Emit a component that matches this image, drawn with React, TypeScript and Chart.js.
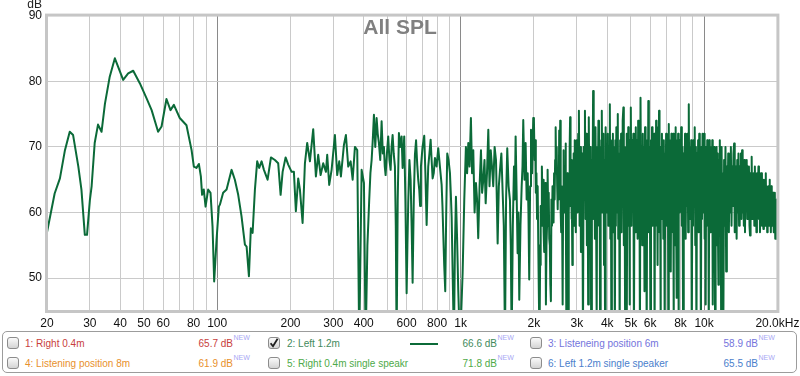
import React, { useEffect, useRef } from 'react';
import { Chart, registerables } from 'chart.js';

Chart.register(...registerables);

type Pt = [number, number];

// ---- Trace "2: Left 1.2m" : [frequency Hz, SPL dB] ----
const bassBand: Pt[] = [
  [20, 57.0], [21.5, 62.9], [22.6, 65.2], [23.7, 69.5], [24.8, 72.3], [25.6, 71.8], [26.9, 67.0],
  [27.7, 63.5], [28.6, 56.6], [29.2, 56.6], [30.0, 61.9], [30.5, 64.0], [31.4, 70.6], [32.4, 73.4],
  [33.5, 72.3], [34.6, 76.6], [36.2, 80.7], [38.0, 83.5], [39.2, 82.2], [41.1, 80.2], [43.1, 81.2],
  [45.2, 81.6], [48.1, 79.7], [51.3, 77.4], [53.8, 75.6], [57.2, 72.3], [59.1, 73.1], [61.9, 77.3],
  [64.3, 75.6], [66.4, 76.4], [70.2, 74.4], [74.8, 73.3], [78.5, 69.5], [80.2, 67.0], [82.2, 66.8],
  [84.1, 67.4], [85.7, 65.5], [86.7, 62.7], [88.1, 63.5], [89.6, 60.9], [91.8, 63.5], [93.9, 63.0],
  [95.7, 57.9], [97.2, 49.5], [99.4, 55.8],
];

const lowMidBand: Pt[] = [
  [101.6, 60.9], [102.6, 61.2], [105.8, 63.0], [109.3, 63.5], [114.6, 66.5], [118.2, 65.0], [122.0, 62.7],
  [125.9, 59.4], [130.0, 55.1], [132.1, 54.8], [135.0, 50.3], [137.5, 57.6], [139.8, 56.9], [142.9, 63.5],
  [146.0, 67.8], [148.8, 66.8], [152.2, 67.8], [155.6, 66.5], [161.1, 65.0], [166.3, 68.4], [172.6, 68.0],
  [178.1, 67.5], [182.2, 62.7], [185.7, 66.2], [191.0, 68.4], [195.8, 67.3], [202.2, 66.2], [206.6, 66.2],
  [210.5, 60.2], [215.2, 65.2], [218.7, 63.5], [224.3, 58.4], [229.3, 67.5], [234.3, 70.6], [240.4, 67.8],
  [248.0, 72.7], [254.4, 65.5], [260.0, 68.8], [266.0, 65.7], [272.6, 67.5], [279.7, 66.2], [283.1, 68.8],
  [288.5, 64.2], [295.1, 66.5], [304.5, 71.8], [311.2, 65.7], [317.2, 67.8], [322.3, 65.5], [331.6, 70.3],
  [337.9, 71.8], [345.4, 67.0], [353.3, 67.8], [360.1, 65.0], [368.0, 70.0], [376.1, 69.5], [383.2, 40],
  [392.0, 66.5], [400.7, 64.5],
];

const midBand: Pt[] = [
  [407.2, 40], [414, 55], [421.2, 61.9], [426, 66], [430.9, 68.0], [435.5, 71], [440.4, 74.9], [446, 70],
  [451.7, 74.4], [456.5, 72], [461.6, 70.6], [467.5, 68], [473.6, 73.9], [479, 69], [484.0, 70.0], [488, 67],
  [491.8, 65.7], [498, 69], [504.1, 71.6], [510, 68], [515.6, 66.5], [520.5, 70], [525.5, 71.8], [531, 69],
  [537.1, 67.0], [541.5, 58], [545.8, 40], [551.5, 62], [557.8, 72.1], [565, 70], [572.2, 71.6], [577.7, 66.8],
  [582, 69], [586.5, 71.6], [593, 62], [600.0, 47.7], [604.5, 55], [609.1, 61.4], [616, 68], [623.1, 65.0],
  [629, 58], [635.0, 49.3], [642, 62], [649.0, 68.8], [656, 71], [663.3, 67.3], [669.5, 65], [676.0, 63.5],
  [681.5, 61], [686.9, 67.0], [697.5, 70], [708.7, 71.7], [716.5, 66], [725.0, 58.1], [730.5, 63], [736.0, 67.0],
  [744.5, 69], [752.9, 71.1], [760, 68], [767.3, 65.2], [775.5, 66], [784.2, 68.3], [796.5, 67], [809.1, 69.8],
  [822, 67], [835.5, 64.2], [842, 61], [848.3, 56.9], [856, 52], [864.5, 48.0], [872.5, 60], [881.0, 69.0],
  [892, 68], [903.8, 66.0], [911, 63], [918.4, 59.4], [928, 50], [938.6, 40], [947.5, 55], [956.5, 62.4],
  [967, 56], [977.6, 48.2], [985.5, 44], [993.4, 40], [1006, 45], [1019, 50.8], [1035, 62], [1051, 70.0],
  [1063, 66], [1075, 70.6], [1088, 67], [1102, 74.4], [1114, 66], [1127, 69.5], [1141, 60], [1156, 64.5],
  [1168, 62], [1181, 56.1], [1196, 64], [1212, 69.5], [1225, 63], [1239, 65.0], [1253, 68], [1267, 61.4],
  [1283, 66], [1299, 72.6], [1314, 64], [1329, 69.5], [1345, 67], [1361, 64.0], [1379, 70], [1397, 68.0],
  [1408, 62], [1419, 55.3], [1435, 64], [1451, 66.5], [1470, 69], [1488, 63.0], [1504, 58], [1521, 40],
  [1537, 62], [1554, 69.8], [1574, 64], [1594, 61.9], [1607, 55], [1620, 40], [1638, 58], [1656, 67.0],
  [1669, 62], [1682, 71.6], [1698, 63], [1714, 53.8], [1727, 60], [1741, 46.7], [1761, 58], [1781, 64.0],
  [1795, 67], [1808, 74.1], [1829, 65], [1849, 70.6], [1867, 62], [1885, 66.0], [1899, 60], [1913, 49.8],
  [1929, 64], [1945, 72.6], [1966, 66], [1987, 74.4],
];

const band2kStartHz = 2000;
const band2kStepHz = 12;
const band2kLevels = [
  74, 68, 71, 63, 66, 59, 64, 55, 47, 40,
  52, 61, 58, 67, 62, 65, 57, 54, 63, 64.5,
  46, 55, 58, 66.5, 60, 63, 56, 55, 49, 46.5,
  62, 58, 64, 60, 58.5, 66, 62, 68, 73, 66,
  70, 64, 60.5, 66, 62, 72.5, 65, 74, 60, 57,
  64, 58, 46, 62, 69.5, 60, 62, 67, 70.5, 63,
  40, 58, 66, 54, 40, 60, 63, 70, 74.5, 61,
  68, 59, 66, 52, 67, 60, 69, 58, 71, 62,
  66, 57, 70, 63,
];

const band3kStartHz = 3000;
const band3kStepHz = 20;
const band3kLevels = [
  71, 60, 72, 75.5, 58, 70, 54, 68, 69, 40,
  70, 62, 75.5, 59, 72, 55, 71, 46, 74.5, 61,
  70, 58, 40, 68, 62, 78.5, 59, 72, 56, 73,
  60, 44, 70, 62, 74, 58, 71, 40, 66, 70,
  75.5, 60, 69, 72, 52, 68, 40, 73, 60, 70,
  64, 72, 58, 70, 61, 76.5, 56, 71, 40, 69,
  60, 72, 57, 70, 62, 40, 71, 58, 73, 60,
  70, 75, 56, 69, 62, 40, 71, 60, 72, 57,
  69, 62, 74, 76, 55, 70, 60, 40, 68, 61,
  72, 40, 70, 58, 73, 62, 69, 46, 71, 60,
];

const band5kStartHz = 5000;
const band5kStepHz = 30;
const band5kLevels = [
  76, 58, 71, 62, 72, 40, 69, 57, 73, 61,
  71, 56, 74, 60, 70, 40, 77.5, 62, 69, 55,
  72, 60, 70, 48, 73, 61, 68, 40, 71, 59,
  77, 57, 70, 62, 40, 71, 60, 73, 58, 69,
  61, 72, 40, 70, 58, 74, 61, 69, 52, 73,
  60, 75.5, 57, 70, 40, 68, 61, 72, 59, 70,
  56, 71, 62, 40, 69, 60, 72, 58, 70, 61,
  68, 40, 73.5, 59, 71, 62, 69, 51, 72, 60,
  70, 57, 72, 40, 69, 61, 71, 55, 73, 60,
  69, 47, 71, 58, 72, 40, 68, 60, 71, 62,
];

const band8kStartHz = 8000;
const band8kStepHz = 50;
const band8kLevels = [
  64, 73, 58, 70, 40, 69, 60, 72, 56, 70,
  61, 72, 57, 76.5, 59, 70, 62, 71, 40, 68,
  58, 71, 62, 73, 55, 70, 40, 69, 60, 71,
  57, 72, 61, 69, 40, 70, 59, 72, 60, 68,
  72, 56, 70, 46, 69, 61, 71, 58, 70, 40,
  71, 60, 68, 57, 70, 61, 71, 46, 69, 59,
  70, 58, 40, 68, 60, 70, 55, 69, 61, 49,
  68, 59, 71, 60, 69, 40, 70, 58, 66, 40,
];

const band12kStartHz = 12000;
const band12kStepHz = 80;
const band12kLevels = [
  44, 68, 58, 70, 51, 67, 60, 69, 57, 68,
  60, 70, 58, 67, 61, 69, 70.5, 57, 67, 62,
  56, 68, 60, 69, 58, 67, 61, 69, 59, 69.5,
  60, 67, 58, 68, 57, 66, 61, 68, 59, 67,
  60, 67, 58, 56.5, 66, 60, 68.5, 59, 66, 61,
  66, 58, 67, 60, 65, 57, 66, 60, 64, 67,
  59, 66, 57, 64, 60, 66, 58, 65, 60, 57.5,
  65, 59, 64, 58, 66, 59, 64, 57, 63, 60,
  64, 58, 65, 59, 63, 57, 64, 60, 62, 58,
  63, 57, 62, 59, 63, 56, 61, 58, 62, 56,
  58,
];

// ---- Axes ----
const xGridFreqs = [20, 30, 40, 50, 60, 70, 80, 90, 100, 200, 300, 400, 500, 600, 700, 800, 900,
  1000, 2000, 3000, 4000, 5000, 6000, 7000, 8000, 9000, 10000, 20000];
const decadeFreqs = [100, 1000, 10000];
const xLabelFreqs = [20, 30, 40, 50, 60, 80, 100, 200, 300, 400, 600, 800, 1000, 2000, 3000, 4000,
  5000, 6000, 8000, 10000, 20000];
const xLabelTexts = ['20', '30', '40', '50', '60', '80', '100', '200', '300', '400', '600', '800', '1k',
  '2k', '3k', '4k', '5k', '6k', '8k', '10k', '20.0kHz'];
const yTickValues = [50, 60, 70, 80, 90];
const yMin = 45;
const yMax = 90;
const xMin = 20;
const xMax = 20000;

const chartTitle = 'All SPL';
const yUnit = 'dB';

// ---- Legend ----
const legendNames = ['1: Right 0.4m', '2: Left 1.2m', '3: Listeneing position 6m',
  '4: Listening position 8m', '5: Right 0.4m single speakr', '6: Left 1.2m single speaker'];
const legendValues = ['65.7 dB', '66.6 dB', '58.9 dB', '61.9 dB', '71.8 dB', '65.5 dB'];
const legendChecked = [false, true, false, false, false, false];
const legendBadge = 'NEW';

const legendColors = ['#c8403c', '#3f8a5c', '#7474dc', '#e8902c', '#4eaa48', '#4a80cc'];
const traceColor = '#0b6a38';
const FONT = '"Liberation Sans", Arial, Helvetica, sans-serif';

function bins(startHz: number, stepHz: number, levels: number[]): Pt[] {
  return levels.map((db, i) => [startHz + i * stepHz, db] as Pt);
}

export default function App() {
  const ref = useRef<HTMLCanvasElement>(null);

  useEffect(() => {
    document.body.style.margin = '0';
    const points = [
      ...bassBand, ...lowMidBand, ...midBand,
      ...bins(band2kStartHz, band2kStepHz, band2kLevels),
      ...bins(band3kStartHz, band3kStepHz, band3kLevels),
      ...bins(band5kStartHz, band5kStepHz, band5kLevels),
      ...bins(band8kStartHz, band8kStepHz, band8kLevels),
      ...bins(band12kStartHz, band12kStepHz, band12kLevels),
    ].map(([x, y]) => ({ x, y }));

    const decor = {
      id: 'decor',
      afterDatasetsDraw(chart: any) {
        const { ctx, chartArea: a } = chart;
        ctx.save();
        ctx.strokeStyle = '#c6c6c6';
        ctx.lineWidth = 3;
        ctx.strokeRect(a.left - 0.5, a.top - 0.5, a.right - a.left + 1, a.bottom - a.top + 1);
        ctx.fillStyle = '#808080';
        ctx.font = `bold 21px ${FONT}`;
        ctx.textAlign = 'center';
        ctx.textBaseline = 'alphabetic';
        ctx.fillText(chartTitle, 400, 33.5);
        ctx.fillStyle = '#222';
        ctx.font = `12px ${FONT}`;
        ctx.textAlign = 'right';
        ctx.fillText(yUnit, 42, 8);
        ctx.restore();
      },
    };

    const chart = new Chart(ref.current!, {
      type: 'line',
      data: {
        datasets: [{
          data: points,
          borderColor: traceColor,
          borderWidth: 2,
          pointRadius: 0,
          tension: 0,
          fill: false,
          borderJoinStyle: 'round',
        }],
      },
      options: {
        animation: false,
        responsive: false,
        maintainAspectRatio: false,
        layout: { padding: { left: 0, top: 15.6, right: 22.6, bottom: 0 } },
        plugins: { legend: { display: false }, tooltip: { enabled: false }, title: { display: false } },
        scales: {
          x: {
            type: 'logarithmic',
            min: xMin,
            max: xMax,
            afterBuildTicks: (s: any) => { s.ticks = xGridFreqs.map((v) => ({ value: v })); },
            afterFit: (s: any) => { s.height = 19; s.paddingLeft = 0; s.paddingRight = 0; },
            ticks: {
              autoSkip: false,
              maxRotation: 0,
              minRotation: 0,
              padding: 5,
              color: '#111',
              font: { family: FONT, size: 12 },
              callback: (v: any) => {
                const i = xLabelFreqs.indexOf(Number(v));
                return i >= 0 ? xLabelTexts[i] : '';
              },
            },
            grid: {
              drawTicks: false,
              lineWidth: 1,
              color: (c: any) => (c.tick && decadeFreqs.includes(c.tick.value) ? '#8a8a8a' : '#cacaca'),
            },
            border: { display: false },
          },
          y: {
            min: yMin,
            max: yMax,
            afterBuildTicks: (s: any) => { s.ticks = yTickValues.map((v) => ({ value: v })); },
            afterFit: (s: any) => { s.width = 47; s.paddingTop = 0; s.paddingBottom = 0; },
            ticks: { padding: 5, color: '#111', font: { family: FONT, size: 12 } },
            grid: { drawTicks: false, lineWidth: 1, color: '#cacaca' },
            border: { display: false },
          },
        },
      },
      plugins: [decor],
    } as any);
    return () => chart.destroy();
  }, []);

  const colLeft = [7, 268, 530];
  const colText = [25, 287, 548];
  const colValueRight = [233, 497, 758];
  const rowCenter = [343.5, 363.5];

  return (
    <div style={{ position: 'fixed', left: 0, top: 0, width: 800, height: 376, background: '#fff', fontFamily: FONT }}>
      <canvas ref={ref} width={800} height={330} style={{ position: 'absolute', left: 0, top: 0, display: 'block' }} />
      <div style={{ position: 'absolute', left: 2, top: 331, width: 795, height: 42, border: '1px solid #9c9c9c', borderRadius: 5, boxSizing: 'border-box' }} />
      {legendNames.map((name, i) => {
        const col = i % 3;
        const row = Math.floor(i / 3);
        const cy = rowCenter[row];
        const color = legendColors[i];
        return (
          <React.Fragment key={name}>
            <div style={{ position: 'absolute', left: colLeft[col], top: cy - 6.5, width: 12, height: 12, border: '1px solid #8c8c8c', borderRadius: 3, boxSizing: 'border-box', background: 'linear-gradient(#fafafa, #d4d4d4)' }}>
              {legendChecked[i] && (
                <svg width="12" height="12" style={{ position: 'absolute', left: -1, top: -1 }}>
                  <path d="M2.6 6.2 L5 9.2 L9.6 1.8" fill="none" stroke="#1e1e1e" strokeWidth="1.8" />
                </svg>
              )}
            </div>
            <div style={{ position: 'absolute', left: colText[col], top: cy - 6, height: 12, lineHeight: '12px', fontSize: 10, color, whiteSpace: 'nowrap' }}>{name}</div>
            {legendChecked[i] && (
              <div style={{ position: 'absolute', left: 410, top: cy - 1, width: 28, height: 2, background: traceColor }} />
            )}
            <div style={{ position: 'absolute', right: 800 - colValueRight[col], top: cy - 6, height: 12, lineHeight: '12px', fontSize: 10, color, whiteSpace: 'nowrap' }}>{legendValues[i]}</div>
            <div style={{ position: 'absolute', left: colValueRight[col] + 0.5, top: cy - 10, height: 8, lineHeight: '8px', fontSize: 7, color: '#a8a8f4', whiteSpace: 'nowrap' }}>{legendBadge}</div>
          </React.Fragment>
        );
      })}
    </div>
  );
}
